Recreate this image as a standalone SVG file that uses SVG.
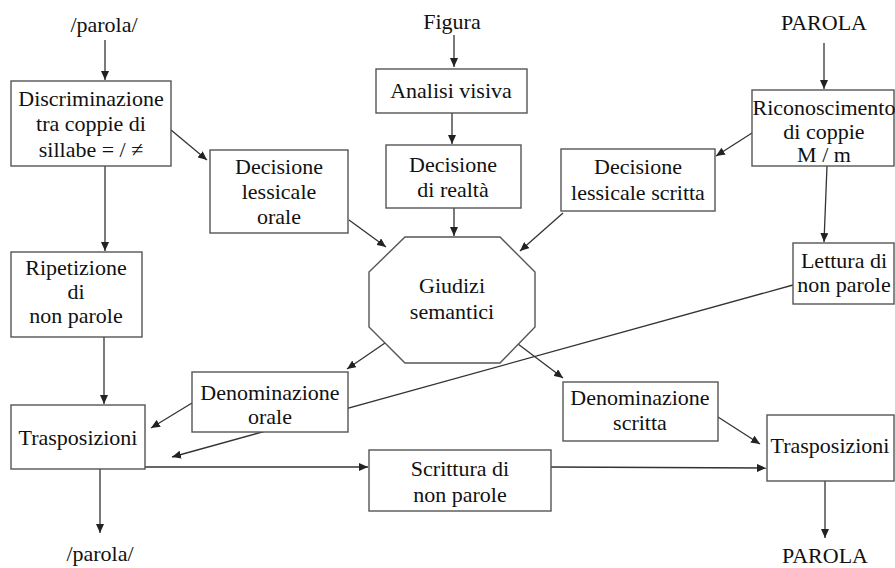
<svg xmlns="http://www.w3.org/2000/svg" width="895" height="568" viewBox="0 0 895 568">
<defs>
<marker id="ah" markerUnits="userSpaceOnUse" markerWidth="10" markerHeight="8" refX="9" refY="4" orient="auto">
<path d="M0,0 L9,4 L0,8 Z" fill="#222"/>
</marker>
<style>
.box{fill:#fff;stroke:#555;stroke-width:1.4}
.c{fill:none;stroke:#333;stroke-width:1.3;marker-end:url(#ah)}
text{font-family:"Liberation Serif","Times New Roman",serif;font-size:22px;fill:#111;text-anchor:middle}
</style>
</defs>
<rect width="895" height="568" fill="#fff"/>
<g id="connectors">
<line class="c" x1="105" y1="40" x2="105" y2="80"/>
<line class="c" x1="454" y1="35" x2="454" y2="67"/>
<line class="c" x1="824" y1="43" x2="824" y2="89"/>
<line class="c" x1="171" y1="130" x2="207" y2="160"/>
<line class="c" x1="452" y1="113" x2="452" y2="144"/>
<line class="c" x1="752" y1="133" x2="716" y2="156"/>
<line class="c" x1="105" y1="166" x2="105" y2="251"/>
<line class="c" x1="454" y1="208" x2="454" y2="236"/>
<line class="c" x1="349" y1="220" x2="386" y2="247"/>
<line class="c" x1="563" y1="213" x2="520" y2="251"/>
<line class="c" x1="827" y1="166" x2="824" y2="242"/>
<line class="c" x1="104" y1="337" x2="104" y2="404"/>
<line class="c" x1="385" y1="343" x2="347" y2="369"/>
<line class="c" x1="518" y1="344" x2="563" y2="378"/>
<line class="c" x1="793" y1="285" x2="172" y2="457"/>
<line class="c" x1="192" y1="403" x2="151" y2="428"/>
<line class="c" x1="145" y1="467" x2="368" y2="467"/>
<line class="c" x1="551" y1="467" x2="766" y2="468"/>
<line class="c" x1="718" y1="417" x2="760" y2="444"/>
<line class="c" x1="100" y1="469" x2="100" y2="533"/>
<line class="c" x1="825" y1="481" x2="825" y2="538"/>
</g>
<g id="in-parola"><text x="104" y="32">/parola/</text></g>
<g id="in-figura"><text x="452" y="29">Figura</text></g>
<g id="in-PAROLA"><text x="824" y="30">PAROLA</text></g>
<g id="discriminazione">
<rect class="box" x="11" y="81" width="160" height="85"/>
<text x="91" y="106">Discriminazione</text>
<text x="91" y="131">tra coppie di</text>
<text x="91" y="157">sillabe = / ≠</text>
</g>
<g id="decisione-orale">
<rect class="box" x="210" y="150" width="138" height="83"/>
<text x="279" y="174">Decisione</text>
<text x="279" y="199">lessicale</text>
<text x="279" y="224">orale</text>
</g>
<g id="analisi-visiva">
<rect class="box" x="376" y="69" width="151" height="44"/>
<text x="451" y="98">Analisi visiva</text>
</g>
<g id="decisione-realta">
<rect class="box" x="386" y="145" width="135" height="63"/>
<text x="453" y="172">Decisione</text>
<text x="453" y="197">di realtà</text>
</g>
<g id="decisione-scritta">
<rect class="box" x="561" y="149" width="154" height="62"/>
<text x="638" y="174">Decisione</text>
<text x="638" y="200">lessicale scritta</text>
</g>
<g id="riconoscimento">
<rect class="box" x="752" y="90" width="142" height="76"/>
<text x="824" y="115">Riconoscimento</text>
<text x="824" y="139">di coppie</text>
<text x="824" y="162">M / m</text>
</g>
<g id="ripetizione">
<rect class="box" x="11" y="252" width="131" height="85"/>
<text x="76" y="275">Ripetizione</text>
<text x="76" y="299">di</text>
<text x="76" y="323">non parole</text>
</g>
<g id="giudizi">
<polygon class="box" points="405,237 500,237 535,272 535,327 500,363 405,363 369,327 369,272"/>
<text x="452" y="293">Giudizi</text>
<text x="452" y="319">semantici</text>
</g>
<g id="lettura">
<rect class="box" x="793" y="243" width="101" height="61"/>
<text x="844" y="268">Lettura di</text>
<text x="844" y="292">non parole</text>
</g>
<g id="denominazione-orale">
<rect class="box" x="192" y="372" width="156" height="60"/>
<text x="270" y="400">Denominazione</text>
<text x="270" y="424">orale</text>
</g>
<g id="denominazione-scritta">
<rect class="box" x="563" y="382" width="155" height="59"/>
<text x="640" y="405">Denominazione</text>
<text x="640" y="430">scritta</text>
</g>
<g id="trasposizioni-sx">
<rect class="box" x="11" y="405" width="134" height="64"/>
<text x="78" y="445">Trasposizioni</text>
</g>
<g id="scrittura">
<rect class="box" x="369" y="450" width="182" height="61"/>
<text x="460" y="476">Scrittura di</text>
<text x="460" y="502">non parole</text>
</g>
<g id="trasposizioni-dx">
<rect class="box" x="767" y="415" width="127" height="66"/>
<text x="830" y="453">Trasposizioni</text>
</g>
<g id="out-parola"><text x="100" y="561">/parola/</text></g>
<g id="out-PAROLA"><text x="825" y="563">PAROLA</text></g>
</svg>
